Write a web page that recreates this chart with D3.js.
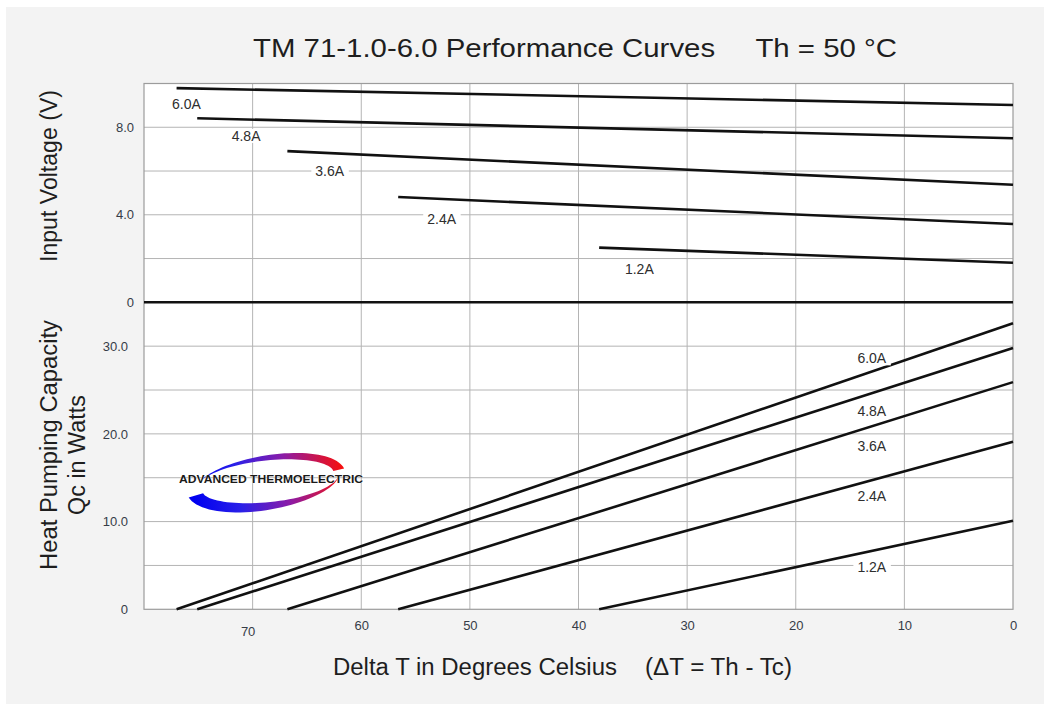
<!DOCTYPE html>
<html>
<head>
<meta charset="utf-8">
<script src="https://cdn.jsdelivr.net/npm/d3@7"></script>
<style>
  body { margin: 0; background: #ffffff; }
  text { font-family: "Liberation Sans", Arial, sans-serif; }
</style>
</head>
<body>
<div id="chart"></div>
<script>
// Curve data (Th = 50 C)
var currents = ["6.0A", "4.8A", "3.6A", "2.4A", "1.2A"];
// delta T where each current's curve begins (left end)
var dtStart = [77.0, 75.1, 66.8, 56.6, 38.1];
// input voltage at the left end and at delta T = 0
var voltStart = [9.79, 8.41, 6.91, 4.81, 2.50];
var voltEnd = [9.02, 7.50, 5.37, 3.58, 1.81];
// heat pumped: zero at the left end, max at delta T = 0
var qcStart = [0, 0, 0, 0, 0];
var qcEnd = [32.6, 29.8, 25.9, 19.1, 10.1];

var xTicks = [70, 60, 50, 40, 30, 20, 10, 0];
var voltTicks = [0, 4, 8];
var qcTicks = [0, 10, 20, 30];

//Set up chart area
var svgWidth = 1044;
var svgHeight = 704;

var plot = { left: 144, right: 1013, top: 83.5, mid: 302.3, bottom: 609.3 };

var svg = d3.select("#chart")
  .append("svg")
  .attr("width", svgWidth)
  .attr("height", svgHeight);

svg.append("rect")
  .attr("x", 6).attr("y", 7)
  .attr("width", svgWidth - 6).attr("height", svgHeight - 7)
  .attr("fill", "#f3f3f3");

// Step 1: scales
// ==============================
var xScale = d3.scaleLinear().domain([80, 0]).range([plot.left, plot.right]);
var yVolt = d3.scaleLinear().domain([0, 10]).range([plot.mid, plot.top]);
var yQc = d3.scaleLinear().domain([0, 35]).range([plot.bottom, plot.mid]);

// plot background
svg.append("rect")
  .attr("x", plot.left).attr("y", plot.top)
  .attr("width", plot.right - plot.left).attr("height", plot.bottom - plot.top)
  .attr("fill", "#ffffff");

// Step 2: grid
// ==============================
var grid = svg.append("g").attr("stroke", "#b4b4b4").attr("stroke-width", 1);

grid.selectAll(".vgrid")
  .data(d3.range(10, 80, 10))
  .enter().append("line")
  .attr("x1", d => xScale(d)).attr("x2", d => xScale(d))
  .attr("y1", plot.top).attr("y2", plot.bottom);

grid.selectAll(".hgridV")
  .data([2, 4, 6, 8])
  .enter().append("line")
  .attr("x1", plot.left).attr("x2", plot.right)
  .attr("y1", d => yVolt(d)).attr("y2", d => yVolt(d));

grid.selectAll(".hgridQ")
  .data([5, 10, 15, 20, 25, 30])
  .enter().append("line")
  .attr("x1", plot.left).attr("x2", plot.right)
  .attr("y1", d => yQc(d)).attr("y2", d => yQc(d));

svg.append("rect")
  .attr("x", plot.left).attr("y", plot.top)
  .attr("width", plot.right - plot.left).attr("height", plot.bottom - plot.top)
  .attr("fill", "none")
  .attr("stroke", "#9c9c9c")
  .attr("stroke-width", 1.2);

// zero voltage line separating the two panels
svg.append("line")
  .attr("x1", plot.left).attr("x2", plot.right)
  .attr("y1", yVolt(0)).attr("y2", yVolt(0))
  .attr("stroke", "#111").attr("stroke-width", 2.6);

// Step 3: axes
// ==============================
var bottomAxis = d3.axisBottom(xScale).tickValues(xTicks).tickSize(0).tickPadding(11);
var xAxisG = svg.append("g")
  .attr("transform", `translate(0, ${plot.bottom})`)
  .call(bottomAxis);

var leftVolt = d3.axisLeft(yVolt).tickValues(voltTicks).tickSize(0).tickPadding(10)
  .tickFormat(d => d === 0 ? "0" : d3.format(".1f")(d));
var voltAxisG = svg.append("g")
  .attr("transform", `translate(${plot.left}, 0)`)
  .call(leftVolt);

var leftQc = d3.axisLeft(yQc).tickValues(qcTicks).tickSize(0).tickPadding(16)
  .tickFormat(d => d === 0 ? "0" : d3.format(".1f")(d));
var qcAxisG = svg.append("g")
  .attr("transform", `translate(${plot.left}, 0)`)
  .call(leftQc);

[xAxisG, voltAxisG, qcAxisG].forEach(function (g) {
  g.select(".domain").remove();
  g.selectAll("text")
    .attr("font-family", "'Liberation Sans', Arial, sans-serif")
    .attr("font-size", 13)
    .attr("fill", "#363c47");
});
// the "70" label sits a bit lower and left on the original sheet
xAxisG.selectAll("text").filter(d => d === 70).attr("dx", -5).attr("dy", "1.2em");

// Step 4: curves
// ==============================
var voltLine = d3.line().x(d => xScale(d[0])).y(d => yVolt(d[1]));
var qcLine = d3.line().x(d => xScale(d[0])).y(d => yQc(d[1]));

var curves = svg.append("g")
  .attr("fill", "none")
  .attr("stroke", "#111")
  .attr("stroke-width", 2.6);

currents.forEach(function (c, i) {
  curves.append("path")
    .attr("d", voltLine([[dtStart[i], voltStart[i]], [0, voltEnd[i]]]));
  curves.append("path")
    .attr("d", qcLine([[dtStart[i], qcStart[i]], [0, qcEnd[i]]]));
});

// Step 5: current labels (placed in data units)
// ==============================
var voltLabelAt = [[76.1, 9.05], [70.6, 7.6], [62.9, 6.0], [52.6, 3.78], [34.4, 1.52]];
var qcLabelAt = [[13.0, 28.6], [13.0, 22.6], [13.0, 18.6], [13.0, 12.9], [13.0, 4.85]];

function addLabel(text, x, y) {
  var g = svg.append("g");
  var t = g.append("text")
    .attr("x", x).attr("y", y)
    .attr("dy", "0.35em")
    .attr("text-anchor", "middle")
    .attr("font-size", 14)
    .attr("fill", "#2e2e2e")
    .text(text);
  var bb = t.node().getBBox();
  g.insert("rect", "text")
    .attr("x", bb.x - 4).attr("y", bb.y + 1)
    .attr("width", bb.width + 8).attr("height", bb.height - 2)
    .attr("fill", "#ffffff");
}

currents.forEach(function (c, i) {
  addLabel(c, xScale(voltLabelAt[i][0]), yVolt(voltLabelAt[i][1]));
  addLabel(c, xScale(qcLabelAt[i][0]), yQc(qcLabelAt[i][1]));
});

// Step 6: logo
// ==============================
var defs = svg.append("defs");
var grad = defs.append("linearGradient")
  .attr("id", "logoGrad")
  .attr("gradientUnits", "userSpaceOnUse")
  .attr("x1", -74).attr("y1", 0).attr("x2", 76).attr("y2", 0);
grad.append("stop").attr("offset", "0%").attr("stop-color", "#0000f0");
grad.append("stop").attr("offset", "30%").attr("stop-color", "#2a20e8");
grad.append("stop").attr("offset", "62%").attr("stop-color", "#8a1ca8");
grad.append("stop").attr("offset", "100%").attr("stop-color", "#f51010");

var logo = svg.append("g")
  .attr("transform", "translate(267, 482) rotate(-8)");

function crescent(a0, a1, w0, w1, rx, ry) {
  var n = 40, outer = [], inner = [];
  for (var k = 0; k <= n; k++) {
    var t = k / n;
    var a = (a0 + (a1 - a0) * t) * Math.PI / 180;
    var w = w0 + (w1 - w0) * t;
    outer.push([(rx + w / 2) * Math.cos(a), -(ry + w / 2) * Math.sin(a)]);
    inner.push([(rx - w / 2) * Math.cos(a), -(ry - w / 2) * Math.sin(a)]);
  }
  return d3.line().curve(d3.curveLinearClosed)(outer.concat(inner.reverse()));
}

logo.append("path")
  .attr("d", crescent(150, 5, 0.5, 11, 73, 24))
  .attr("fill", "url(#logoGrad)");
logo.append("path")
  .attr("d", crescent(188, 345, 15, 0.5, 73, 24))
  .attr("fill", "url(#logoGrad)");

svg.append("text")
  .attr("x", 271).attr("y", 483)
  .attr("text-anchor", "middle")
  .attr("font-family", "'DejaVu Sans', sans-serif")
  .attr("font-weight", "bold")
  .attr("font-size", 11)
  .attr("textLength", 184)
  .attr("lengthAdjust", "spacingAndGlyphs")
  .attr("fill", "#1a1a1a")
  .attr("stroke", "#ffffff")
  .attr("stroke-width", 0.6)
  .attr("paint-order", "stroke")
  .text("ADVANCED THERMOELECTRIC");

// Step 7: titles
// ==============================
svg.append("text")
  .attr("x", 575).attr("y", 57)
  .attr("text-anchor", "middle")
  .attr("font-family", "'Open Sans', 'Noto Sans', sans-serif")
  .attr("font-size", 26)
  .attr("fill", "#1e1e1e")
  .attr("textLength", 644)
  .attr("lengthAdjust", "spacingAndGlyphs")
  .style("white-space", "pre")
  .text("TM 71-1.0-6.0 Performance Curves     Th = 50 \u00B0C");

function axisTitle(label, x, y, len, rotate) {
  svg.append("text")
    .attr("transform", `translate(${x}, ${y})` + (rotate ? " rotate(-90)" : ""))
    .attr("text-anchor", "middle")
    .attr("font-size", 23)
    .attr("fill", "#1e1e1e")
    .attr("textLength", len)
    .attr("lengthAdjust", "spacingAndGlyphs")
    .text(label);
}

axisTitle("Input Voltage (V)", 57, 176, 172, true);
axisTitle("Heat Pumping Capacity", 57, 445, 250, true);
axisTitle("Qc in Watts", 85, 455, 120, true);
axisTitle("Delta T in Degrees Celsius", 475, 675, 284, false);
axisTitle("(\u0394T = Th - Tc)", 718.5, 675, 147, false);
</script>
</body>
</html>
